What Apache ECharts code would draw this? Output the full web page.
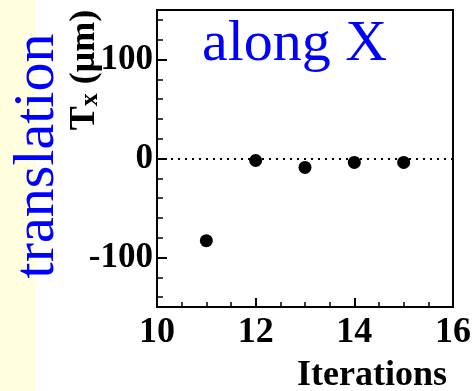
<!DOCTYPE html>
<html>
<head>
<meta charset="utf-8">
<script src="https://cdn.jsdelivr.net/npm/echarts@6/dist/echarts.min.js"></script>
<style>html,body{margin:0;padding:0;background:#fff}#c{width:475px;height:391px}</style>
</head>
<body>
<div id="c"></div>
<script>
// Data
var iterations = [11, 12, 13, 14, 15];
var tx = [-83, -2, -9, -4, -4];
var yMajorTicks = [-100, 0, 100];
var yMinorTicks = [-140, -120, -80, -60, -40, -20, 20, 40, 60, 80, 120, 140];
var xRange = [10, 16];
var yRange = [-150, 150];
var titleText = 'along X';
var sideText = 'translation';
var xName = 'Iterations';

var serif = '"Liberation Serif","Times New Roman",serif';
var chart = echarts.init(document.getElementById('c'), null, {renderer: 'canvas'});
var pts = iterations.map(function (x, i) { return [x, tx[i]]; });

chart.setOption({
  animation: false,
  backgroundColor: '#ffffff',
  grid: {left: 157, top: 10, right: 22, bottom: 84, show: true, borderColor: '#000', borderWidth: 2, backgroundColor: 'transparent'},
  xAxis: {
    type: 'value', min: xRange[0], max: xRange[1], interval: 2,
    axisLine: {show: true, onZero: false, lineStyle: {color: '#000', width: 2}},
    axisTick: {show: true, inside: true, length: 9, lineStyle: {color: '#000', width: 2}},
    minorTick: {show: true, splitNumber: 4, length: 5, lineStyle: {color: '#000', width: 1.5}},
    splitLine: {show: false},
    axisLabel: {color: '#000', fontFamily: serif, fontWeight: 'bold', fontSize: 36, margin: 8}
  },
  yAxis: [{
    type: 'value', min: yRange[0], max: yRange[1], interval: 50,
    axisLine: {show: true, onZero: false, lineStyle: {color: '#000', width: 2}},
    axisTick: {show: true, inside: true, length: 10, customValues: yMajorTicks, lineStyle: {color: '#000', width: 2}},
    splitLine: {show: false},
    axisLabel: {color: '#000', fontFamily: serif, fontWeight: 'bold', fontSize: 35, margin: 4,
      customValues: yMajorTicks, padding: [8, 0, 0, 0]}
  }, {
    type: 'value', min: yRange[0], max: yRange[1], interval: 50, position: 'left',
    axisLine: {show: false},
    axisTick: {show: true, inside: true, length: 6, customValues: yMinorTicks, lineStyle: {color: '#000', width: 1.5}},
    splitLine: {show: false},
    axisLabel: {show: false}
  }],
  series: [{
    type: 'scatter', xAxisIndex: 0, yAxisIndex: 0,
    data: pts, symbol: 'circle', symbolSize: 13,
    itemStyle: {color: '#000', opacity: 1},
    markLine: {
      silent: true, symbol: ['none', 'none'], label: {show: false},
      lineStyle: {color: '#000', type: [2, 5], width: 2},
      data: [{yAxis: 0}]
    }
  }],
  graphic: [
    {type: 'rect', left: 0, top: 0, z: -10, shape: {x: 0, y: 0, width: 36, height: 391}, style: {fill: '#FFFFE0'}},
    {type: 'text', x: 38, y: 156, rotation: Math.PI / 2, z: 10,
      style: {text: sideText, fill: '#0000FF', fontFamily: serif, fontSize: 58, align: 'center', verticalAlign: 'middle'}},
    {type: 'text', x: 202, y: 45, z: 10,
      style: {text: titleText, fill: '#0000FF', fontFamily: serif, fontSize: 58, align: 'left', verticalAlign: 'middle'}},
    {type: 'text', x: 447, y: 376, z: 10,
      style: {text: xName, fill: '#000', fontFamily: serif, fontWeight: 'bold', fontSize: 36, align: 'right', verticalAlign: 'middle'}},
    {type: 'text', x: 85, y: 70, rotation: Math.PI / 2, z: 10,
      style: {
        text: '{m|T}{s|x}{m| (μm)}', align: 'center', verticalAlign: 'middle',
        rich: {
          m: {fill: '#000', fontFamily: serif, fontWeight: 'bold', fontSize: 36},
          s: {fill: '#000', fontFamily: serif, fontWeight: 'bold', fontSize: 26, padding: [10, 0, 0, 0]}
        }
      }}
  ]
});
</script>
</body>
</html>
